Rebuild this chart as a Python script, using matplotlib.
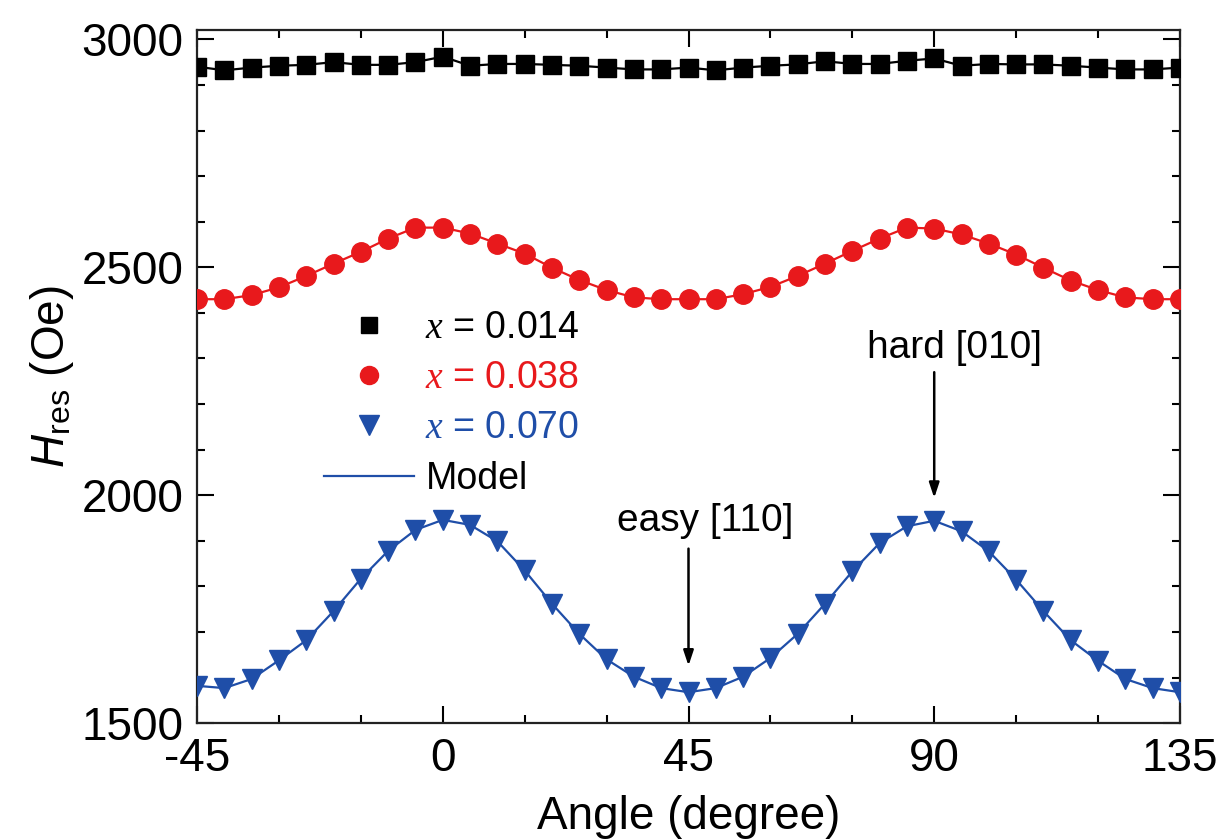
import numpy as np
import matplotlib.pyplot as plt
from matplotlib.lines import Line2D
from matplotlib.ticker import MultipleLocator

plt.rcParams["font.family"] = "Liberation Sans"
plt.rcParams["axes.unicode_minus"] = False
plt.rcParams["mathtext.fontset"] = "custom"
plt.rcParams["mathtext.rm"] = "Liberation Sans"
plt.rcParams["mathtext.it"] = "Liberation Serif:italic"
plt.rcParams["mathtext.sf"] = "Liberation Sans:italic"

# in-plane angle, every 5 degrees
angle = np.arange(-45, 136, 5)

# resonance field (Oe) for each Mn content
h_014 = [2940, 2932, 2938, 2942, 2944, 2950, 2944, 2944, 2950, 2962,
         2942, 2946, 2946, 2944, 2942, 2938, 2934, 2934, 2938,
         2932, 2938, 2942, 2945, 2952, 2946, 2946, 2953, 2958,
         2942, 2946, 2945, 2945, 2942, 2938, 2934, 2934, 2938]
h_038 = [2430, 2430, 2439, 2456, 2481, 2508, 2534, 2563, 2587, 2587,
         2574, 2552, 2530, 2499, 2472, 2450, 2434, 2430, 2430,
         2430, 2441, 2457, 2481, 2508, 2536, 2563, 2587, 2585,
         2572, 2552, 2528, 2499, 2471, 2450, 2434, 2430, 2430]
h_070 = [1582, 1577, 1597, 1638, 1682, 1746, 1817, 1878, 1924, 1946,
         1935, 1899, 1835, 1762, 1696, 1640, 1602, 1577, 1568,
         1577, 1602, 1643, 1696, 1762, 1833, 1895, 1932, 1944,
         1921, 1877, 1815, 1746, 1682, 1637, 1597, 1577, 1568]

labels = [r"$x$ = 0.014", r"$x$ = 0.038", r"$x$ = 0.070"]
red = "#E8191C"
blue = "#1F4EA8"

fig = plt.figure(figsize=(12.24, 8.39), dpi=100)
ax = fig.add_axes([0.161, 0.138, 0.803, 0.826])

ax.plot(angle, h_014, color="black", lw=1.6, marker="s", ms=13, zorder=3)
ax.plot(angle, h_038, color=red, lw=1.6, marker="o", ms=14, zorder=3)
ax.plot(angle, h_070, color=blue, lw=1.6, marker="v", ms=14, zorder=3)

ax.set_xlim(-45, 135)
ax.set_ylim(1500, 3020)
ax.xaxis.set_major_locator(MultipleLocator(45))
ax.xaxis.set_minor_locator(MultipleLocator(15))
ax.yaxis.set_major_locator(MultipleLocator(500))
ax.yaxis.set_minor_locator(MultipleLocator(100))
ax.tick_params(which="both", direction="in", top=True, right=True,
               width=1.5, labelsize=33)
ax.tick_params(which="major", length=12, pad=10)
ax.tick_params(which="minor", length=6)
ax.set_xticks([-45, 0, 45, 90, 135])
ax.set_yticks([1500, 2000, 2500, 3000])
for s in ax.spines.values():
    s.set_linewidth(1.6)
    s.set_color("#222222")

ax.set_xlabel("Angle (degree)", fontsize=33, labelpad=10)
ax.set_ylabel(r"$\mathsf{H}_{\rm res}$ (Oe)", fontsize=33, labelpad=4)

handles = [
    Line2D([], [], ls="none", marker="s", ms=11, color="black"),
    Line2D([], [], ls="none", marker="o", ms=13, color=red),
    Line2D([], [], ls="none", marker="v", ms=14, color=blue),
    Line2D([], [], color=blue, lw=1.6),
]
leg = ax.legend(handles, labels + ["Model"], loc="upper left",
                bbox_to_anchor=(0.095, 0.645), frameon=False, fontsize=27,
                handlelength=2.4, handletextpad=0.3, labelspacing=0.38)
for txt, c in zip(leg.get_texts(), ["black", red, blue, "black"]):
    txt.set_color(c)

arrow = dict(arrowstyle="-|>,head_length=0.9,head_width=0.3", color="black", lw=1.8)
ax.annotate("", xy=(90, 1988), xytext=(90, 2276), arrowprops=arrow)
ax.text(93.8, 2322, "hard [010]", fontsize=28, ha="center", va="center")
ax.annotate("", xy=(45, 1620), xytext=(45, 1889), arrowprops=arrow)
ax.text(48, 1944, "easy [110]", fontsize=28, ha="center", va="center")

fig.savefig("out.png", dpi=100)
